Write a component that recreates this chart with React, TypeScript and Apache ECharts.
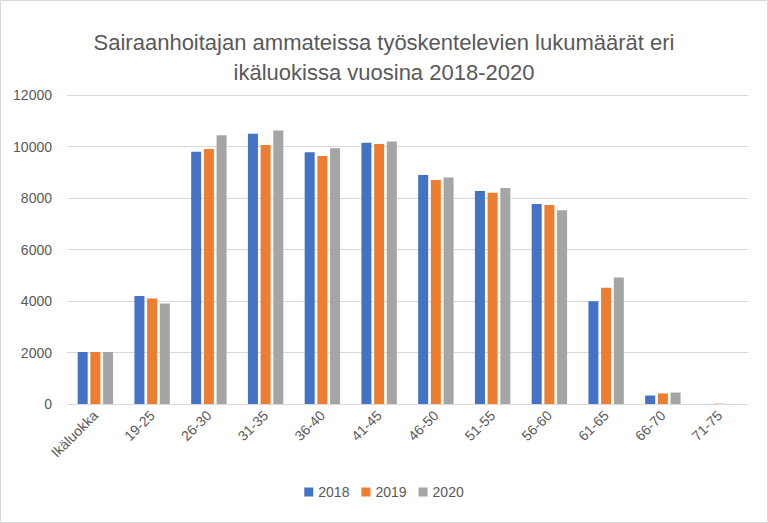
import React, { useEffect, useRef } from "react";
import * as echarts from "echarts";

const categories = ["Ikäluokka", "19-25", "26-30", "31-35", "36-40", "41-45", "46-50", "51-55", "56-60", "61-65", "66-70", "71-75"];
const values2018 = [2018, 4195, 9800, 10495, 9775, 10145, 8890, 8270, 7765, 3990, 330, 3];
const values2019 = [2019, 4100, 9905, 10060, 9630, 10100, 8695, 8200, 7730, 4510, 410, 14];
const values2020 = [2020, 3905, 10440, 10620, 9935, 10195, 8800, 8390, 7520, 4910, 445, 4];
const seriesNames = ["2018", "2019", "2020"];
const titleText = "Sairaanhoitajan ammateissa työskentelevien lukumäärät eri\nikäluokissa vuosina 2018-2020";

const FONT = "'Liberation Sans', Arial, sans-serif";
const TEXT = "#595959";

export default function App() {
  const ref = useRef<HTMLDivElement>(null);
  useEffect(() => {
    document.body.style.margin = "0";
    const chart = echarts.init(ref.current!, null, { renderer: "svg" });
    const data = [values2018, values2019, values2020];
    const colors = ["#4472C4", "#ED7D31", "#A5A5A5"];
    chart.setOption({
      animation: false,
      backgroundColor: "#ffffff",
      color: colors,
      textStyle: { fontFamily: FONT },
      title: {
        text: titleText,
        left: "center",
        top: 22,
        textStyle: { fontFamily: FONT, fontSize: 22, fontWeight: "normal", color: TEXT, lineHeight: 30 },
      },
      graphic: [
        {
          type: "rect",
          shape: { x: 0.5, y: 0.5, width: 767, height: 522 },
          style: { fill: "none", stroke: "#d9d9d9", lineWidth: 1 },
          silent: true,
        },
      ],
      legend: {
        data: seriesNames,
        bottom: 19,
        left: "center",
        itemWidth: 9,
        itemHeight: 9,
        itemGap: 12,
        icon: "rect",
        textStyle: { fontFamily: FONT, fontSize: 14, color: TEXT },
      },
      grid: { left: 67, right: 20, top: 95, bottom: 119, containLabel: false },
      xAxis: {
        type: "category",
        data: categories,
        axisLine: { lineStyle: { color: "#d9d9d9" } },
        axisTick: { show: false },
        axisLabel: { rotate: 45, fontSize: 14, color: TEXT, fontFamily: FONT, margin: 9, interval: 0 },
      },
      yAxis: {
        type: "value",
        min: 0,
        max: 12000,
        interval: 2000,
        axisLine: { show: false },
        axisTick: { show: false },
        splitLine: { lineStyle: { color: "#d9d9d9" } },
        axisLabel: { fontSize: 14, color: TEXT, fontFamily: FONT, margin: 15, formatter: (v: number) => String(v) },
      },
      series: seriesNames.map((name, i) => ({
        name,
        type: "bar",
        data: data[i],
        barWidth: 10,
        barGap: "27%",
        itemStyle: { color: colors[i] },
      })),
    });
    return () => chart.dispose();
  }, []);
  return <div ref={ref} style={{ position: "absolute", left: 0, top: 0, width: 768, height: 523 }} />;
}
